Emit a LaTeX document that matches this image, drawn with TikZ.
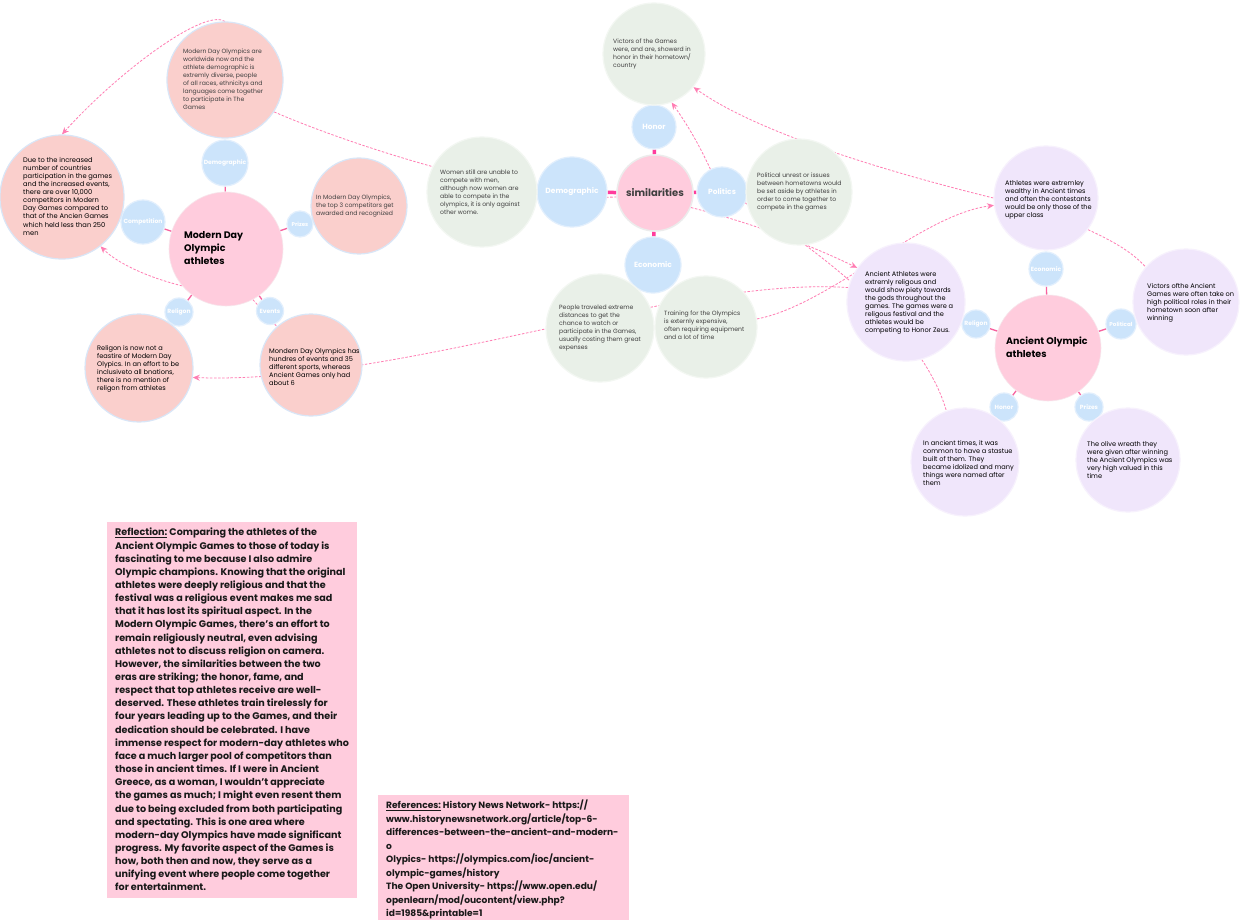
\documentclass[tikz,border=0pt]{standalone}
\usepackage{fontspec}
\setmainfont{Poppins}
\usetikzlibrary{arrows.meta}
\pgfdeclarelayer{back}
\pgfdeclarelayer{bg}
\pgfsetlayers{back,bg,main}
\definecolor{hubpink}{HTML}{FFCCDD}
\definecolor{subblue}{HTML}{CCE4FB}
\definecolor{subring}{HTML}{E2EFFD}
\definecolor{modfill}{HTML}{FACFCC}
\definecolor{modring}{HTML}{D9E6F7}
\definecolor{simfill}{HTML}{E9F0E8}
\definecolor{simring}{HTML}{F3F7F2}
\definecolor{ancfill}{HTML}{F0E6FB}
\definecolor{ancring}{HTML}{F7F1FD}
\definecolor{linkpink}{HTML}{F7629F}
\definecolor{dashpink}{HTML}{FF7DB3}
\definecolor{magbar}{HTML}{FF3C9C}
\definecolor{txtgray}{HTML}{3F3F3F}
\definecolor{boxpink}{HTML}{FFCCDD}
\tikzset{
  hub/.style={circle,inner sep=0pt,fill=hubpink,draw=hubpink!85!gray!40,line width=0.6pt},
  subc/.style={circle,inner sep=0pt,fill=subblue,draw=subring,line width=1.2pt,text=white,font=\bfseries\fontsize{6}{7}\selectfont},
  subbig/.style={subc,font=\bfseries\fontsize{7.5}{9}\selectfont},
  modc/.style={circle,inner sep=0pt,fill=modfill,draw=modring,line width=1.2pt},
  simc/.style={circle,inner sep=0pt,fill=simfill,draw=simring,line width=1.2pt},
  ancc/.style={circle,inner sep=0pt,fill=ancfill,draw=ancring,line width=1.2pt},
  smalltxt/.style={inner sep=0pt,anchor=north west,align=left,font=\fontsize{6.1}{8}\selectfont},
  graytxt/.style={smalltxt,text=txtgray},
  blacktxt/.style={smalltxt,text=black,font=\fontsize{6.6}{8}\selectfont},
  hubtxt/.style={inner sep=0pt,anchor=north west,align=left,font=\bfseries\fontsize{9.5}{13}\selectfont,text=black},
  conn/.style={draw=linkpink,line width=1.3pt},
  simconn/.style={draw=magbar,line width=3.5pt},
  dlink/.style={draw=dashpink,dash pattern=on 2.5pt off 1.6pt,line width=0.8pt},
  darrow/.style={dlink,-{Stealth[length=7pt,width=6pt,fill=dashpink]}},
  bigtxt/.style={inner sep=0pt,anchor=north west,align=left,font=\bfseries\fontsize{9.6}{13.15}\selectfont,text=black!90},
}
\begin{document}
\begin{tikzpicture}[x=1pt,y=-1pt]
\useasboundingbox (0,0) rectangle (1240,920);
\begin{pgfonlayer}{back}
\fill[white] (0,0) rectangle (1240,920);
\end{pgfonlayer}

% ---------------- Modern cluster ----------------
\node[hub,minimum size=114pt] (modhub) at (226,249) {};
\node[hubtxt] (modhubT) at (184,231) {Modern Day\\Olympic\\athletes};

\node[subc,minimum size=46pt] (mdemo) at (225,163) {Demographic};
\node[modc,minimum size=116pt] (mdemoC) at (225,80) {};
\node[graytxt] (mdemoT) at (183,49) {Modern Day Olympics are\\worldwide now and the\\athlete demographic is\\extremly diverse, people\\of all races, ethnicitys and\\languages come together\\to participate in The\\Games};

\node[subc,minimum size=44pt] (mcomp) at (143,222) {Competition};
\node[modc,minimum size=124pt] (mdueC) at (62,197) {};
\node[blacktxt,font=\fontsize{6.7}{8.1}\selectfont] (mdueT) at (23,157) {Due to the increased\\number of countries\\participation in the games\\and the increased events,\\there are over 10,000\\competitors in Modern\\Day Games compared to\\that of the Ancien Games\\which held less than 250\\men};

\node[subc,minimum size=26pt,font=\bfseries\fontsize{5.5}{6}\selectfont] (mpriz) at (300,224) {Prizes};
\node[modc,minimum size=96pt] (mtopC) at (359,206) {};
\node[graytxt] (mtopT) at (316,195) {In Modern Day Olympics,\\the top 3 competitors get\\awarded and recognized};

\node[modc,minimum size=108pt] (mrelC) at (139,368) {};
\node[subc,minimum size=28pt] (mrel) at (179,312) {Religon};
\node[blacktxt] (mrelT) at (97,345) {Religon is now not a\\feastire of Modern Day\\Olypics. In an effort to be\\inclusiveto all bnations,\\there is no mention of\\religon from athletes};

\node[modc,minimum size=102pt] (mevtC) at (311,365) {};
\node[subc,minimum size=27pt] (mevt) at (270,311) {Events};
\node[blacktxt] (mevtT) at (269,348) {Mondern Day Olympics has\\hundres of events and 35\\different sports, whereas\\Ancient Games only had\\about 6};

% ---------------- Similarities cluster ----------------
\node[hub,minimum size=76pt,draw=gray!15,line width=1.5pt,font=\bfseries\fontsize{10}{12}\selectfont,text=txtgray] (sim) at (655,193) {similarities};

\node[subbig,minimum size=44pt] (shon) at (654,127) {Honor};
\node[simc,minimum size=102pt] (svicC) at (654,54) {};
\node[graytxt] (svicT) at (613,39) {Victors of the Games\\were, and are, showerd in\\honor in their hometown/\\country};

\node[subbig,minimum size=70pt] (sdem) at (572,192) {Demographic};
\node[simc,minimum size=110pt] (swomC) at (482,192) {};
\node[graytxt] (swomT) at (440,170) {Women still are unable to\\compete with men,\\although now women are\\able to compete in the\\olympics, it is only against\\other wome.};

\node[subbig,minimum size=50pt] (spol) at (722,192) {Politics};
\node[simc,minimum size=106pt] (spolC) at (799,192) {};
\node[graytxt] (spolT) at (757,173) {Political unrest or issues\\between hometowns would\\be set aside by athletes in\\order to come together to\\compete in the games};

\node[subbig,minimum size=56pt] (seco) at (653,265) {Economic};
\node[simc,minimum size=108pt] (speoC) at (600,328) {};
\node[graytxt] (speoT) at (559,305) {People traveled extreme\\distances to get the\\chance to watch or\\participate in the Games,\\usually costing them great\\expenses};
\node[simc,minimum size=102pt] (strnC) at (706,327) {};
\node[graytxt] (strnT) at (664,311) {Training for the Olympics\\is externly expensive,\\often requiring equipment\\and a lot of time};

% ---------------- Ancient cluster ----------------
\node[hub,minimum size=106pt] (ahub) at (1048,348) {};
\node[hubtxt] (ahubT) at (1006,337) {Ancient Olympic\\athletes};

\node[subc,minimum size=34pt] (aeco) at (1046,269) {Economic};
\node[ancc,minimum size=104pt] (aweaC) at (1046,198) {};
\node[blacktxt] (aweaT) at (1005,180) {Athletes were extremley\\wealthy in Ancient times\\and often the contestants\\would be only those of the\\upper class};

\node[subc,minimum size=28pt] (arel) at (976,324) {Religon};
\node[ancc,minimum size=118pt] (arelC) at (906,302) {};
\node[blacktxt] (arelT) at (865,271) {Ancient Athletes were\\extremly religous and\\would show piety towards\\the gods throughout the\\games. The games were a\\religous festival and the\\athletes would be\\competing to Honor Zeus.};

\node[subc,minimum size=30pt,font=\bfseries\fontsize{5.6}{6}\selectfont] (apol) at (1121,324) {Political};
\node[ancc,minimum size=106pt] (apolC) at (1186,302) {};
\node[blacktxt] (apolT) at (1147,283) {Victors ofthe Ancient\\Games were often take on\\high political roles in their\\hometown soon after\\winning};

\node[subc,minimum size=28pt] (ahon) at (1004,407) {Honor};
\node[ancc,minimum size=108pt] (ahonC) at (965,462) {};
\node[blacktxt] (ahonT) at (923,440) {In ancient times, it was\\common to have a stastue\\built of them. They\\became idolized and many\\things were named after\\them};

\node[subc,minimum size=28pt] (apri) at (1089,407) {Prizes};
\node[ancc,minimum size=104pt] (apriC) at (1128,460) {};
\node[blacktxt] (apriT) at (1087,441) {The olive wreath they\\were given after winning\\the Ancient Olympics was\\very high valued in this\\time};

% ---------------- Text boxes ----------------
\node[fill=boxpink,inner sep=0pt,minimum width=250pt,minimum height=376pt,anchor=north west] (reflbox) at (107,522) {};
\node[bigtxt] (reflT) at (115,528) {\underline{Reflection:} Comparing the athletes of the\\
Ancient Olympic Games to those of today is\\
fascinating to me because I also admire\\
Olympic champions. Knowing that the original\\
athletes were deeply religious and that the\\
festival was a religious event makes me sad\\
that it has lost its spiritual aspect. In the\\
Modern Olympic Games, there's an effort to\\
remain religiously neutral, even advising\\
athletes not to discuss religion on camera.\\
However, the similarities between the two\\
eras are striking; the honor, fame, and\\
respect that top athletes receive are well-\\
deserved. These athletes train tirelessly for\\
four years leading up to the Games, and their\\
dedication should be celebrated. I have\\
immense respect for modern-day athletes who\\
face a much larger pool of competitors than\\
those in ancient times. If I were in Ancient\\
Greece, as a woman, I wouldn't appreciate\\
the games as much; I might even resent them\\
due to being excluded from both participating\\
and spectating. This is one area where\\
modern-day Olympics have made significant\\
progress. My favorite aspect of the Games is\\
how, both then and now, they serve as a\\
unifying event where people come together\\
for entertainment.};

\node[fill=boxpink,inner sep=0pt,minimum width=251pt,minimum height=125pt,anchor=north west] (refbox) at (378,795) {};
\node[bigtxt,font=\bfseries\fontsize{9.1}{13.5}\selectfont] (refT) at (386,800) {\underline{References:} History News Network- https://\\
www.historynewsnetwork.org/article/top-6-\\
differences-between-the-ancient-and-modern-\\
o\\
Olypics- https://olympics.com/ioc/ancient-\\
olympic-games/history\\
The Open University- https://www.open.edu/\\
openlearn/mod/oucontent/view.php?\\
id=1985\&printable=1};

% ---------------- Connectors (behind) ----------------
\begin{pgfonlayer}{bg}
\draw[conn] (modhub) -- (mdemo);
\draw[conn] (modhub) -- (mcomp);
\draw[conn] (modhub) -- (mpriz);
\draw[conn] (modhub) -- (mrel);
\draw[conn] (modhub) -- (mevt);
\draw[simconn] (sim) -- (shon);
\draw[simconn] (sim) -- (sdem);
\draw[simconn] (sim) -- (spol);
\draw[simconn] (sim) -- (seco);
\draw[conn] (ahub) -- (aeco);
\draw[conn] (ahub) -- (arel);
\draw[conn] (ahub) -- (apol);
\draw[conn] (ahub) -- (ahon);
\draw[conn] (ahub) -- (apri);

% relationships
\draw[darrow] (mdemoC.north) .. controls (205,8) and (120,70) .. (mdueC.north);
\draw[darrow] (modhub.220) .. controls (150,278) and (118,264) .. (mdueC.-52);
\draw[dlink] (mdemoC.-33) .. controls (350,145) and (520,200) .. (sim.186);
\draw[dlink] (modhub.-62) -- (mevtC);
\draw[darrow] (arelC.166) .. controls (680,276) and (400,385) .. (mrelC.-10);
\draw[darrow] (sim.-22) .. controls (740,220) and (800,240) .. (arelC.145);
\draw[dlink] (spol.-25) .. controls (800,240) and (920,320) .. (ahonC.110);
\draw[darrow] (spol.117) .. controls (697,140) and (684,120) .. (svicC.-70);
\draw[darrow] (aweaC.180) .. controls (900,175) and (760,135) .. (svicC.-40);
\draw[darrow] (strnC.9) .. controls (830,305) and (920,215) .. (aweaC.188);
\draw[dlink] (aweaC.-37) .. controls (1110,240) and (1130,250) .. (apolC.139);
\end{pgfonlayer}
\end{tikzpicture}
\end{document}
